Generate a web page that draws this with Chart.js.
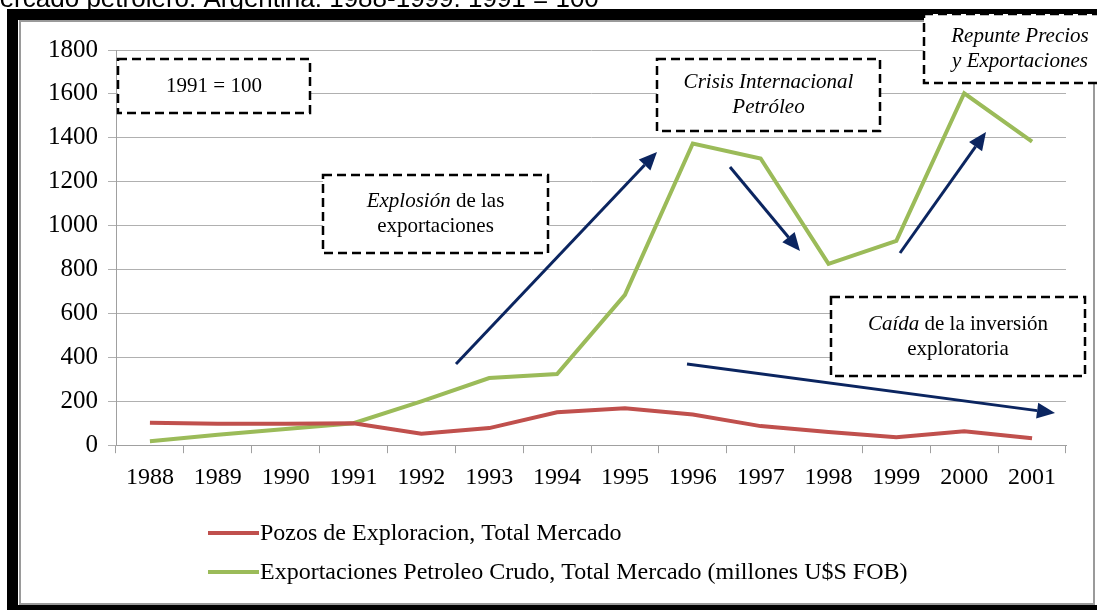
<!DOCTYPE html>
<html>
<head>
<meta charset="utf-8">
<script src="https://cdn.jsdelivr.net/npm/chart.js@4"></script>
<style>
  html, body { margin: 0; padding: 0; background: #fff; }
  #wrap { width: 1097px; height: 610px; position: relative; }
</style>
</head>
<body>
<div id="wrap"><canvas id="mercadoChart" width="1097" height="610"></canvas></div>
<script>
// datos
const years = ['1988', '1989', '1990', '1991', '1992', '1993', '1994', '1995', '1996', '1997', '1998', '1999', '2000', '2001'];
const pozos = [102, 98, 98, 100, 52, 78, 150, 168, 140, 87, 60, 36, 64, 32];
const exportaciones = [18, 48, 74, 100, 200, 306, 324, 685, 1374, 1306, 826, 931, 1603, 1383];
const yTicks = [0, 200, 400, 600, 800, 1000, 1200, 1400, 1600, 1800];
const seriesNames = ['Pozos de Exploracion, Total Mercado', 'Exportaciones Petroleo Crudo, Total Mercado (millones U$S FOB)'];
const topTitle = 'Mercado petrolero. Argentina. 1988-1999. 1991 = 100';

const SERIF = '"Liberation Serif", "Times New Roman", serif';
const NAVY = '#0b2560';

// cajas punteadas (posiciones en px del lienzo) y flechas
const boxes = [
  { x: 118, y: 59, w: 192, h: 54, lines: [[['1991 = 100', false]]] },
  { x: 323, y: 175, w: 225, h: 78, lines: [[['Explosión', true], [' de las', false]], [['exportaciones', false]]] },
  { x: 657, y: 59, w: 223, h: 72, lines: [[['Crisis Internacional', true]], [['Petróleo', true]]] },
  { x: 924, y: 14, w: 192, h: 69, lines: [[['Repunte Precios', true]], [['y Exportaciones', true]]] },
  { x: 831, y: 297, w: 254, h: 79, lines: [[['Caída', true], [' de la inversión', false]], [['exploratoria', false]]] }
];
const arrows = [
  [456, 364, 657, 152],
  [730, 167, 800, 251],
  [900, 253, 986, 132],
  [687, 364, 1055, 413]
];

function drawArrow(ctx, x1, y1, x2, y2) {
  const ang = Math.atan2(y2 - y1, x2 - x1);
  const hl = 18, hw = 8;
  const bx = x2 - hl * Math.cos(ang), by = y2 - hl * Math.sin(ang);
  ctx.strokeStyle = NAVY;
  ctx.lineWidth = 3;
  ctx.beginPath();
  ctx.moveTo(x1, y1);
  ctx.lineTo(bx, by);
  ctx.stroke();
  ctx.fillStyle = NAVY;
  ctx.beginPath();
  ctx.moveTo(x2, y2);
  ctx.lineTo(bx + hw * Math.sin(ang), by - hw * Math.cos(ang));
  ctx.lineTo(bx - hw * Math.sin(ang), by + hw * Math.cos(ang));
  ctx.closePath();
  ctx.fill();
}

function drawBox(ctx, b) {
  ctx.fillStyle = '#fff';
  ctx.fillRect(b.x, b.y, b.w, b.h);
  ctx.setLineDash([9, 5]);
  ctx.strokeStyle = '#000';
  ctx.lineWidth = 2.5;
  ctx.strokeRect(b.x, b.y, b.w, b.h);
  ctx.setLineDash([]);
  const lh = 25;
  const startY = b.y + b.h / 2 - (b.lines.length - 1) * lh / 2;
  ctx.fillStyle = '#000';
  ctx.textBaseline = 'middle';
  b.lines.forEach((parts, i) => {
    let total = 0;
    parts.forEach(p => {
      ctx.font = (p[1] ? 'italic ' : '') + '21px ' + SERIF;
      total += ctx.measureText(p[0]).width;
    });
    let x = b.x + b.w / 2 - total / 2;
    parts.forEach(p => {
      ctx.font = (p[1] ? 'italic ' : '') + '21px ' + SERIF;
      ctx.textAlign = 'left';
      ctx.fillText(p[0], x, startY + i * lh);
      x += ctx.measureText(p[0]).width;
    });
  });
}

const framePlugin = {
  id: 'frame',
  beforeDraw(chart) {
    const ctx = chart.ctx;
    ctx.save();
    ctx.fillStyle = '#fff';
    ctx.fillRect(0, 0, chart.width, chart.height);
    // titulo recortado arriba
    ctx.fillStyle = '#000';
    ctx.font = '26px "Liberation Sans", Arial, sans-serif';
    ctx.textBaseline = 'alphabetic';
    ctx.fillText(topTitle, -22, 7);
    // marco negro
    ctx.fillStyle = '#000';
    ctx.fillRect(7, 9, 1090, 11);
    ctx.fillRect(7, 9, 11, 601);
    ctx.fillRect(7, 605, 1090, 5);
    // borde gris interior
    ctx.strokeStyle = '#9a9a9a';
    ctx.lineWidth = 2;
    ctx.strokeRect(20, 21, 1074, 583);
    ctx.restore();
  },
  afterDraw(chart) {
    const ctx = chart.ctx;
    ctx.save();
    arrows.forEach(a => drawArrow(ctx, a[0], a[1], a[2], a[3]));
    boxes.forEach(b => drawBox(ctx, b));
    // leyenda
    ctx.font = '24px ' + SERIF;
    ctx.textBaseline = 'middle';
    ctx.textAlign = 'left';
    chart.data.datasets.forEach((ds, i) => {
      const y = 533 + i * 39;
      ctx.strokeStyle = ds.borderColor;
      ctx.lineWidth = 4;
      ctx.beginPath();
      ctx.moveTo(208, y);
      ctx.lineTo(259, y);
      ctx.stroke();
      ctx.fillStyle = '#000';
      ctx.fillText(ds.label, 260, y + 1);
    });
    ctx.restore();
  }
};

new Chart(document.getElementById('mercadoChart'), {
  type: 'line',
  data: {
    labels: years,
    datasets: [{
      label: seriesNames[0],
      data: pozos,
      borderColor: '#c0504d',
      borderWidth: 4,
      pointRadius: 0,
      tension: 0
    }, {
      label: seriesNames[1],
      data: exportaciones,
      borderColor: '#9bbb59',
      borderWidth: 4,
      pointRadius: 0,
      tension: 0
    }]
  },
  options: {
    responsive: false,
    animation: false,
    layout: { padding: { left: 38, right: 31, top: 50, bottom: 108 } },
    plugins: { legend: { display: false }, tooltip: { enabled: false } },
    scales: {
      x: {
        offset: true,
        grid: { offset: true, drawOnChartArea: false, color: '#a0a0a0', tickLength: 8 },
        border: { color: '#a0a0a0' },
        ticks: { color: '#000', font: { family: SERIF, size: 24 }, padding: 10, maxRotation: 0 }
      },
      y: {
        min: 0,
        max: 1800,
        afterBuildTicks(axis) { axis.ticks = yTicks.map(v => ({ value: v })); },
        grid: { color: '#b0b0b0', tickLength: 8 },
        border: { color: '#a0a0a0' },
        ticks: { color: '#000', font: { family: SERIF, size: 25 }, padding: 10, callback: v => String(v) }
      }
    }
  },
  plugins: [framePlugin]
});
</script>
</body>
</html>
